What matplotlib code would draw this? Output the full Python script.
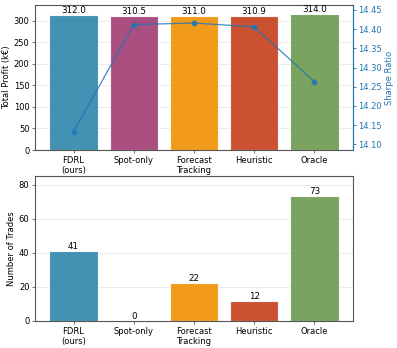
import matplotlib
matplotlib.use("Agg")
import matplotlib.pyplot as plt
import numpy as np

methods = ["FDRL\n(ours)", "Spot-only", "Forecast\nTracking", "Heuristic", "Oracle"]
profit = [312.0, 310.5, 311.0, 310.9, 314.0]
sharpe = [14.133, 14.412, 14.416, 14.406, 14.263]
trades = [41, 0, 22, 12, 73]
colors = ["#2E86AB", "#A23B72", "#F18F01", "#C73E1D", "#6A994E"]

plt.rcParams['font.family'] = ['DejaVu Sans']
fig = plt.figure(figsize=(3.97, 3.48), dpi=100)
W, H = 397, 348
ax1 = fig.add_axes([35/W, 1 - 150/H, (353-35)/W, (150-5)/H])
ax3 = fig.add_axes([35/W, 1 - 321/H, (353-35)/W, (321-176)/H])

x = np.arange(len(methods))
fs = 6.0

for ax in (ax1, ax3):
    ax.set_axisbelow(True)
    ax.grid(axis='y', color='#ebebeb', linewidth=0.7)
    for s in ax.spines.values():
        s.set_color('#555555')
        s.set_linewidth(0.8)
    ax.tick_params(labelsize=fs, length=2, width=0.6, color='#555555', pad=2)

ax1.bar(x, profit, color=colors, alpha=0.9, edgecolor='white', linewidth=0.8, width=0.8)
for xi, v in zip(x, profit):
    ax1.text(xi, v, f"{v:.1f}", ha='center', va='bottom', fontsize=fs + 0.3)
ax1.set_ylim(0, 336)
ax1.set_xticks(x)
ax1.set_xticklabels(methods)
ax1.set_ylabel("Total Profit (k€)", fontsize=fs, labelpad=2)

ax2 = ax1.twinx()
ax2.plot(x, sharpe, color='#1f77b4', marker='o', markersize=3.2, linewidth=0.9, alpha=0.85)
ax2.set_ylim(14.085, 14.463)
ax2.set_yticks([14.10, 14.15, 14.20, 14.25, 14.30, 14.35, 14.40, 14.45])
ax2.tick_params(axis='y', labelsize=fs, colors='#1f77b4', length=2, width=0.6, pad=2)
ax2.set_ylabel("Sharpe Ratio", fontsize=fs, color='#1f77b4', labelpad=2)
ax2.spines['right'].set_color('#1f77b4')
ax2.spines['right'].set_linewidth(0.8)
for s in ['top', 'left', 'bottom']:
    ax2.spines[s].set_visible(False)

ax3.bar(x, trades, color=colors, alpha=0.9, edgecolor='white', linewidth=0.8, width=0.8)
for xi, v in zip(x, trades):
    ax3.text(xi, v, f"{v}", ha='center', va='bottom', fontsize=fs + 0.3)
ax3.set_ylim(0, 85)
ax3.set_yticks([0, 20, 40, 60, 80])
ax3.set_xticks(x)
ax3.set_xticklabels(methods)
ax3.set_ylabel("Number of Trades", fontsize=fs, labelpad=2)

fig.savefig("out.png", dpi=100)
